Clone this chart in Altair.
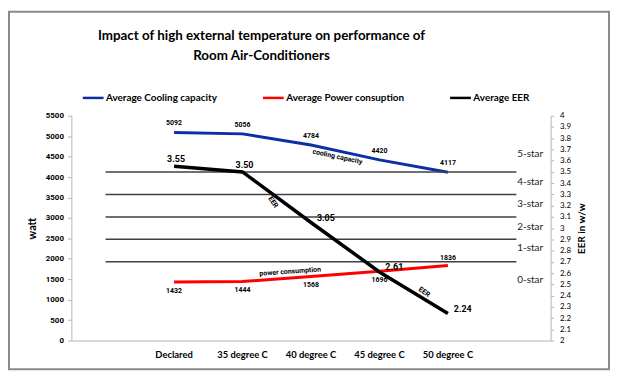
import altair as alt
import pandas as pd

# ---- data ----
categories = ["Declared", "35 degree C", "40 degree C", "45 degree C", "50 degree C"]
cooling = [5092, 5056, 4784, 4420, 4117]
power = [1432, 1444, 1568, 1696, 1836]
eer = [3.55, 3.50, 3.05, 2.61, 2.24]
series_names = ["Average Cooling capacity", "Average Power consuption", "Average EER"]
series_colors = ["#0d2ea4", "#ff0000", "#000000"]
star_thresholds = [3.5, 3.3, 3.1, 2.9, 2.7]
star_labels = ["5-star", "4-star", "3-star", "2-star", "1-star", "0-star"]
star_label_eer = [3.66, 3.41, 3.21, 3.01, 2.82, 2.54]
watt_ticks = list(range(0, 5501, 500))
eer_ticks = [round(2 + 0.1 * i, 1) for i in range(21)]

x_domain = [" "] + categories + ["  "]

df_watt = pd.DataFrame({
    "cat": categories * 2,
    "value": cooling + power,
    "series": [series_names[0]] * 5 + [series_names[1]] * 5,
})
df_eer = pd.DataFrame({"cat": categories, "value": eer, "series": series_names[2]})
df_rules = pd.DataFrame({"cat": " ", "xe": "  ", "value": star_thresholds})
df_stars = pd.DataFrame({"cat": "  ", "value": star_label_eer, "label": star_labels})

W, H = 484, 227

x_scale = alt.Scale(domain=x_domain, paddingInner=0, paddingOuter=0)
x_enc = alt.X(
    "cat:N",
    scale=x_scale,
    axis=alt.Axis(
        title=None, labelAngle=0, ticks=False,
        labelFont="Lato", labelFontWeight="bold", labelFontSize=9.5, labelColor="#000",
        labelPadding=9, domainColor="#b5b5b5",
    ),
)
color_enc = alt.Color(
    "series:N",
    scale=alt.Scale(domain=series_names, range=series_colors),
    legend=alt.Legend(
        title=None, orient="none", legendX=10, legendY=-30, direction="horizontal",
        columns=3, columnPadding=40, symbolType="stroke", symbolStrokeWidth=2.5,
        symbolSize=440, labelOffset=1, labelFont="Lato", labelFontSize=10,
        labelFontWeight="bold", labelColor="#000",
    ),
)

y_watt = alt.Y(
    "value:Q",
    scale=alt.Scale(domain=[0, 5500], nice=False),
    axis=alt.Axis(
        title="watt", values=watt_ticks, format="d", grid=False,
        labelFont="Roboto", labelFontWeight="bold", labelFontSize=8, labelColor="#000",
        domainColor="#b5b5b5", tickColor="#b5b5b5", tickSize=4, labelPadding=4,
        titleFont="Lato", titleFontWeight="bold", titleFontSize=11, titlePadding=8, titleColor="#000",
    ),
)

base_w = alt.Chart(df_watt).encode(x=x_enc, y=y_watt)
watt_lines = base_w.mark_line(strokeWidth=3).encode(color=color_enc)
lbl_style = dict(font="Roboto", fontWeight="bold", fontSize=7, color="#000")
cool_lbl = base_w.mark_text(dy=-9, **lbl_style).encode(text="value:Q").transform_filter(
    alt.datum.series == series_names[0])
pow_lbl_below = base_w.mark_text(dy=9, **lbl_style).encode(text="value:Q").transform_filter(
    (alt.datum.series == series_names[1]) & (alt.datum.cat != categories[-1]))
pow_lbl_above = base_w.mark_text(dy=-8, **lbl_style).encode(text="value:Q").transform_filter(
    (alt.datum.series == series_names[1]) & (alt.datum.cat == categories[-1]))

ann_style = dict(font="Roboto", fontWeight="bold", fontSize=7, color="#000")
ann_cool = alt.Chart(pd.DataFrame({"cat": ["40 degree C"], "value": [4482], "t": ["cooling capacity"]})).mark_text(
    dx=26, dy=-6, angle=12, **ann_style).encode(x=x_enc, y=y_watt, text="t:N")
ann_pow = alt.Chart(pd.DataFrame({"cat": ["40 degree C"], "value": [1696], "t": ["power consumption"]})).mark_text(
    dx=-21, dy=-1, angle=356, **ann_style).encode(x=x_enc, y=y_watt, text="t:N")

watt_layer = alt.layer(watt_lines, cool_lbl, pow_lbl_below, pow_lbl_above, ann_cool, ann_pow)

y_eer = alt.Y(
    "value:Q",
    scale=alt.Scale(domain=[2, 4], nice=False),
    axis=alt.Axis(
        title="EER in w/w", orient="right", values=eer_ticks, format=".1~f", grid=False,
        labelFont="Lato", labelFontSize=8, labelColor="#000",
        domainColor="#b5b5b5", tickColor="#b5b5b5", tickSize=3, labelPadding=6,
        titleFont="Lato", titleFontWeight="bold", titleFontSize=10, titleAngle=270,
        titlePadding=16, titleColor="#000",
    ),
)
base_e = alt.Chart(df_eer).encode(x=x_enc, y=y_eer)
eer_line = base_e.mark_line(strokeWidth=3.5).encode(color=color_enc)
e_style = dict(font="Roboto", fontWeight="bold", fontSize=9, color="#000")
eer_lbl_top = base_e.mark_text(dy=-7, dx=2, **e_style).encode(text=alt.Text("value:Q", format=".2f")).transform_filter(
    alt.datum.value >= 3.5)
eer_lbl_right = base_e.mark_text(dx=15, dy=-5, **e_style).encode(text=alt.Text("value:Q", format=".2f")).transform_filter(
    alt.datum.value < 3.5)

star_rules = alt.Chart(df_rules).mark_rule(color="#404040", strokeWidth=1.5).encode(
    x=x_enc, x2="xe:N", y=y_eer,
)
star_text = alt.Chart(df_stars).mark_text(
    align="left", dx=1, font="Lato", fontSize=10, color="#222").encode(
    x=x_enc, y=y_eer, text="label:N")

ann_e1 = alt.Chart(pd.DataFrame({"cat": ["35 degree C"], "value": [3.233], "t": ["EER"]})).mark_text(
    dx=18, dy=-25, angle=55, **ann_style).encode(x=x_enc, y=y_eer, text="t:N")
ann_e2 = alt.Chart(pd.DataFrame({"cat": ["45 degree C"], "value": [2.43], "t": ["EER"]})).mark_text(
    dx=37, dy=-26, angle=35, **ann_style).encode(x=x_enc, y=y_eer, text="t:N")

eer_layer = alt.layer(star_rules, star_text, eer_line, eer_lbl_top, eer_lbl_right, ann_e1, ann_e2)

frame = alt.Chart(pd.DataFrame({"a": [0]})).mark_rect(
    fillOpacity=0, stroke="#8a8a8a", strokeWidth=2).encode(
    x=alt.value(-63), x2=alt.value(543), y=alt.value(-105), y2=alt.value(256))

chart = alt.layer(frame, watt_layer, eer_layer).resolve_scale(y="independent").properties(
    width=W, height=H,
    title=alt.TitleParams(
        ["Impact of high external temperature on performance of", "Room Air-Conditioners"],
        anchor="middle", dx=-50, offset=-52, frame="group", font="Lato", fontSize=13.5,
        fontWeight="bold", color="#000", lineHeight=20,
    ),
    autosize=alt.AutoSizeParams(type="none"),
    padding={"left": 64, "top": 107, "right": 61, "bottom": 31},
).configure_view(strokeWidth=0)

chart.save("out.html", embed_options={"renderer": "svg", "actions": False})
